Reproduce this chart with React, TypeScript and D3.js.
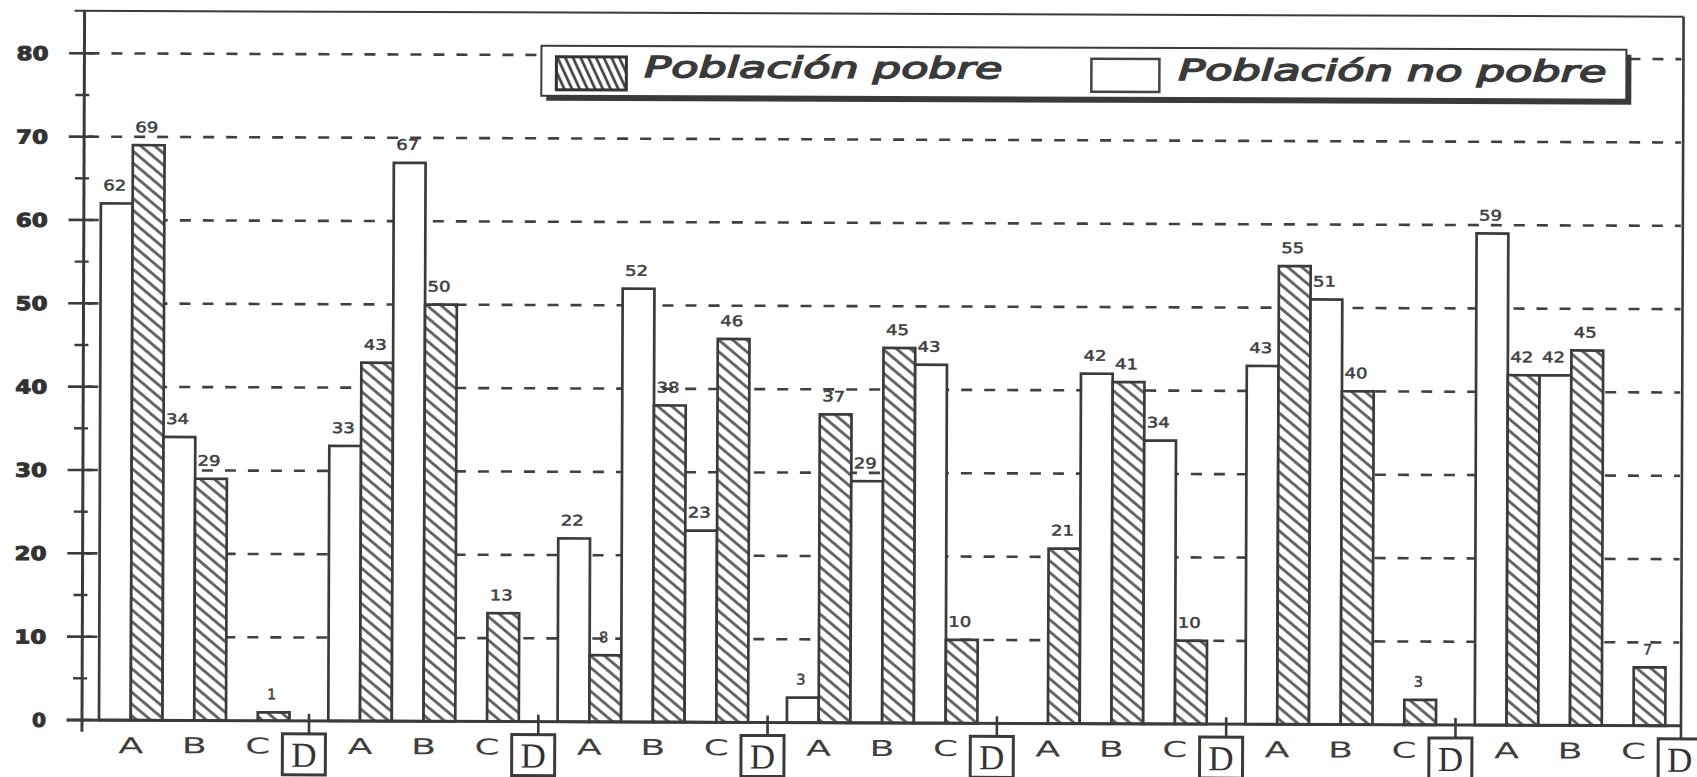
import React from 'react';
import * as d3 from 'd3';

// ---- data ----
const groups = ['G1', 'G2', 'G3', 'G4', 'G5', 'G6', 'G7'];
const categories = ['A', 'B', 'C'];
const extraLabel = 'D';
const seriesKeys = ['noPobre', 'pobre'];
const legendLabels = ['Población pobre', 'Población no pobre'];
const yTicks = [0, 10, 20, 30, 40, 50, 60, 70, 80];
const yMinorTicks = [5, 15, 25, 35, 45, 55, 65, 75];
// Población no pobre (white bars), per group: A, B, C
const noPobre = [
  [62, 34, 0],
  [33, 67, 0],
  [22, 52, 23],
  [3, 29, 43],
  [0, 42, 34],
  [43, 51, 0],
  [59, 42, 0],
];
// Población pobre (hatched bars), per group: A, B, C
const pobre = [
  [69, 29, 1],
  [43, 50, 13],
  [8, 38, 46],
  [37, 45, 10],
  [21, 41, 10],
  [55, 40, 3],
  [42, 45, 7],
];

// ---- layout ----
const W = 1697;
const H = 777;
const INK = '#3b3b3b';
const axisX = 82;
const zeroY = 720;
const groupStart = 99;
const groupStep = 229.3;
const abcSpan = 190.5;
const dCenter = 210;
const rightX = 1681;
const topVal = 85.1;

export default function App() {
  const y = d3.scaleLinear().domain([0, 80]).range([zeroY, 53.3]);
  const gx = d3.scaleBand<string>().domain(groups).range([groupStart, groupStart + groups.length * groupStep]).padding(0);
  const cx = d3.scaleBand<string>().domain(categories).range([0, abcSpan]).padding(0);
  const sx = d3.scaleBand<string>().domain(seriesKeys).range([0, cx.bandwidth()]).padding(0);
  const topY = y(topVal);

  const bars: any[] = [];
  groups.forEach((g, gi) => {
    categories.forEach((c, ci) => {
      seriesKeys.forEach((s) => {
        const v = s === 'noPobre' ? noPobre[gi][ci] : pobre[gi][ci];
        if (!v) return;
        const x = (gx(g) as number) + (cx(c) as number) + (sx(s) as number);
        bars.push({ key: `${g}-${c}-${s}`, x, w: sx.bandwidth(), v, s });
      });
    });
  });

  return (
    <svg
      width={W}
      height={H}
      viewBox={`0 0 ${W} ${H}`}
      style={{ position: 'absolute', left: 0, top: 0, display: 'block', background: '#fff' }}
    >
      <defs>
        <pattern id="hatch" patternUnits="userSpaceOnUse" width="9" height="9" patternTransform="rotate(40)">
          <rect width="9" height="9" fill="#fff" />
          <line x1="0" y1="4.5" x2="9" y2="4.5" stroke="#5e5e5e" strokeWidth="2.8" />
        </pattern>
        <pattern id="hatchLegend" patternUnits="userSpaceOnUse" width="7" height="7" patternTransform="rotate(65)">
          <rect width="7" height="7" fill="#fff" />
          <line x1="0" y1="3.5" x2="7" y2="3.5" stroke="#3a3a3a" strokeWidth="2.6" />
        </pattern>
      </defs>
      <rect x={0} y={0} width={W} height={H} fill="#fff" />
      <g transform={`rotate(0.21, ${axisX}, ${zeroY})`}>
        {/* dashed gridlines */}
        {yTicks.filter((t) => t > 0).map((t) => (
          <line key={`g${t}`} x1={axisX + 4} x2={rightX - 2} y1={y(t)} y2={y(t)}
            stroke="#404040" strokeWidth={2.6} strokeDasharray="11 12" />
        ))}

        {/* bars */}
        {bars.map((b) => (
          <rect key={b.key} x={b.x} y={y(b.v)} width={b.w} height={zeroY - y(b.v)}
            fill={b.s === 'pobre' ? 'url(#hatch)' : '#fff'} stroke={INK} strokeWidth={2.7} />
        ))}

        {/* bar value labels */}
        {bars.map((b) => {
          const txt = String(b.v);
          return (
            <text key={`l${b.key}`} x={b.x + b.w / 2 - 2} y={y(b.v) - 13} textAnchor="middle"
              fontFamily="DejaVu Sans, sans-serif" fontSize={14.5} fill="#404040" stroke="#404040" strokeWidth={0.5}
              {...(txt.length > 1 ? { textLength: 23, lengthAdjust: 'spacingAndGlyphs' } : {})}>
              {txt}
            </text>
          );
        })}

        {/* frame: top and right */}
        <line x1={72} x2={rightX} y1={topY} y2={topY} stroke={INK} strokeWidth={2} />
        <line x1={rightX} x2={rightX} y1={topY} y2={733} stroke={INK} strokeWidth={2.6} />

        {/* y axis */}
        <line x1={axisX} x2={axisX} y1={topY} y2={731.7} stroke={INK} strokeWidth={3} />
        {yTicks.map((t) => (
          <line key={`mt${t}`} x1={66.7} x2={91.7} y1={y(t)} y2={y(t)} stroke={INK} strokeWidth={2.6} />
        ))}
        {yMinorTicks.map((t) => (
          <line key={`nt${t}`} x1={73} x2={87} y1={y(t)} y2={y(t)} stroke={INK} strokeWidth={2.4} />
        ))}
        {yTicks.map((t) => {
          const txt = String(t);
          return (
            <text key={`yl${t}`} x={46} y={y(t) + 7} textAnchor="end"
              fontFamily="DejaVu Sans, sans-serif" fontWeight="bold" fontSize={19} fill="#333"
              stroke="#333" strokeWidth={1}
              textLength={txt.length > 1 ? 32 : 14} lengthAdjust="spacingAndGlyphs">
              {txt}
            </text>
          );
        })}

        {/* zero line */}
        <line x1={66.7} x2={rightX} y1={zeroY} y2={zeroY} stroke={INK} strokeWidth={3} />

        {/* x labels */}
        {groups.map((g, gi) => {
          const g0 = gx(g) as number;
          const dx = g0 + dCenter;
          const last = gi === groups.length - 1;
          return (
            <g key={`xl${g}`}>
              {categories.map((c) => (
                <text key={c} x={g0 + (cx(c) as number) + cx.bandwidth() / 2} y={753}
                  textAnchor="middle" fontFamily="DejaVu Sans, sans-serif" fontSize={22} fill="#3e3e3e"
                  textLength={25} lengthAdjust="spacingAndGlyphs">
                  {c}
                </text>
              ))}
              {!last && (
                <line x1={dx} x2={dx} y1={713} y2={733} stroke={INK} strokeWidth={2.6} />
              )}
              <rect x={dx - 5 - 21.5} y={733} width={43} height={41} fill="#fff" stroke={INK} strokeWidth={3} />
              <text x={dx - 5} y={766} textAnchor="middle" fontFamily="Liberation Serif, DejaVu Serif, serif"
                fontSize={35} fill="#333">
                {extraLabel}
              </text>
            </g>
          );
        })}

        {/* legend */}
        <g>
          <rect x={544} y={49} width={1085} height={50} fill="#3a3a3a" />
          <rect x={539} y={44} width={1085} height={50} fill="#fff" stroke={INK} strokeWidth={2} />
          <rect x={554} y={55} width={70} height={33} fill="url(#hatchLegend)" stroke="#333" strokeWidth={3} />
          <text x={642} y={75} fontFamily="DejaVu Sans, sans-serif" fontStyle="italic"
            fontSize={29} fill="#3a3a3a" stroke="#3a3a3a" strokeWidth={1.4} textLength={358} lengthAdjust="spacingAndGlyphs">
            {legendLabels[0]}
          </text>
          <rect x={1089} y={55} width={68} height={33} fill="#fff" stroke="#444" strokeWidth={2.5} />
          <text x={1176} y={76} fontFamily="DejaVu Sans, sans-serif" fontStyle="italic"
            fontSize={29} fill="#3a3a3a" stroke="#3a3a3a" strokeWidth={1.4} textLength={428} lengthAdjust="spacingAndGlyphs">
            {legendLabels[1]}
          </text>
        </g>
      </g>
    </svg>
  );
}
